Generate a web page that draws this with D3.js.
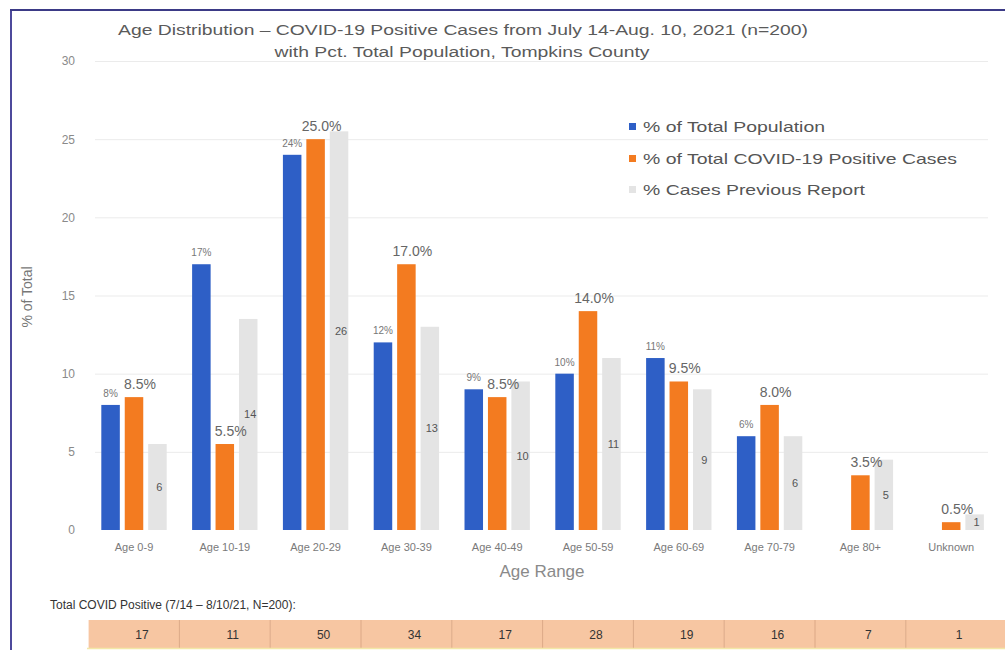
<!DOCTYPE html>
<html>
<head>
<meta charset="utf-8">
<script src="https://cdnjs.cloudflare.com/ajax/libs/d3/7.8.5/d3.min.js"></script>
<style>
  body { margin: 0; background: #fff; }
  svg { font-family: "Liberation Sans", Arial, sans-serif; display: block; }
</style>
</head>
<body>
<svg width="1005" height="650"></svg>
<script>
var categories = ["Age 0-9", "Age 10-19", "Age 20-29", "Age 30-39", "Age 40-49",
                  "Age 50-59", "Age 60-69", "Age 70-79", "Age 80+", "Unknown"];
// % of total population (no bar for 80+ / Unknown)
var popPct = [8, 17, 24, 12, 9, 10, 11, 6, null, null];
// % of total COVID-19 positive cases
var casePct = [8.5, 5.5, 25.0, 17.0, 8.5, 14.0, 9.5, 8.0, 3.5, 0.5];
// % cases previous report
var prevPct = [5.5, 13.5, 25.5, 13, 9.5, 11, 9, 6, 4.5, 1];
// total covid positive counts (table row)
var totals = [17, 11, 50, 34, 17, 28, 19, 16, 7, 1];
var yTicks = [0, 5, 10, 15, 20, 25, 30];
var seriesNames = ["% of Total Population", "% of Total COVID-19 Positive Cases", "% Cases Previous Report"];
var seriesKeys = ["pop", "cases", "prev"];

var svg = d3.select("svg");

var colorScale = d3.scaleOrdinal()
    .domain(seriesKeys)
    .range(["#2e5fc6", "#f37b20", "#e4e4e4"]);

var xScale = d3.scaleBand()
    .domain(categories)
    .range([88.6, 996.6])
    .paddingInner(0.28)
    .paddingOuter(0.14);

var xInner = d3.scaleBand()
    .domain(seriesKeys)
    .range([0, xScale.bandwidth()])
    .paddingInner(0.21);

var yScale = d3.scaleLinear().domain([0, 30]).range([530, 61]);

// frame
svg.append("line").attr("x1", 11).attr("x2", 11).attr("y1", 10).attr("y2", 650)
    .attr("stroke", "#4d4a9c").attr("stroke-width", 2);
svg.append("line").attr("x1", 10).attr("x2", 1005).attr("y1", 10).attr("y2", 10)
    .attr("stroke", "#3b3a86").attr("stroke-width", 2);

// title
var title = svg.append("g").attr("fill", "#5a5a5a").attr("font-size", 14).attr("text-anchor", "middle");
title.append("text").attr("x", 463).attr("y", 35)
    .attr("textLength", 690).attr("lengthAdjust", "spacingAndGlyphs")
    .text("Age Distribution \u2013 COVID-19 Positive Cases from July 14-Aug. 10, 2021 (n=200)");
title.append("text").attr("x", 462).attr("y", 57)
    .attr("textLength", 375).attr("lengthAdjust", "spacingAndGlyphs")
    .text("with Pct. Total Population, Tompkins County");

// gridlines
var grid = svg.append("g")
    .attr("transform", "translate(95,0)")
    .call(d3.axisLeft(yScale).tickValues(yTicks.slice(1)).tickSize(-893).tickFormat(""));
grid.select(".domain").remove();
grid.selectAll("line").attr("stroke", "#ebebeb");

// y axis
var gY = svg.append("g")
    .attr("transform", "translate(78,0)")
    .call(d3.axisLeft(yScale).tickValues(yTicks).tickSize(0).tickPadding(3));
gY.select(".domain").remove();
gY.selectAll("text").attr("font-size", 12).attr("fill", "#8a8a8a")
    .attr("font-family", "Liberation Sans, Arial, sans-serif");

svg.append("text")
    .attr("transform", "translate(32,297) rotate(-90)")
    .attr("text-anchor", "middle")
    .attr("font-size", 14)
    .attr("fill", "#777")
    .text("% of Total");

// x axis
var gX = svg.append("g")
    .attr("transform", "translate(0,530)")
    .call(d3.axisBottom(xScale).tickSize(0).tickPadding(13));
gX.select(".domain").remove();
gX.selectAll("text").attr("font-size", 11).attr("fill", "#7a7a7a")
    .attr("font-family", "Liberation Sans, Arial, sans-serif");

svg.append("text")
    .attr("x", 542).attr("y", 577)
    .attr("text-anchor", "middle")
    .attr("font-size", 17)
    .attr("fill", "#8a8a8a")
    .text("Age Range");

// bars
var rows = categories.map(function (c, i) {
    return { cat: c, pop: popPct[i], cases: casePct[i], prev: prevPct[i] };
});

var groups = svg.selectAll(".group")
    .data(rows)
    .enter().append("g")
    .attr("class", "group")
    .attr("transform", function (d) { return "translate(" + xScale(d.cat) + ",0)"; });

groups.selectAll("rect")
    .data(function (d) {
        return seriesKeys.filter(function (k) { return d[k] != null; })
            .map(function (k) { return { key: k, value: d[k] }; });
    })
    .enter().append("rect")
    .attr("x", function (d) { return xInner(d.key); })
    .attr("width", xInner.bandwidth())
    .attr("y", function (d) { return yScale(d.value); })
    .attr("height", function (d) { return yScale(0) - yScale(d.value); })
    .attr("fill", function (d) { return colorScale(d.key); });

// labels: population
groups.filter(function (d) { return d.pop != null; })
    .append("text")
    .attr("x", xInner("pop") + xInner.bandwidth() / 2)
    .attr("y", function (d) { return yScale(d.pop) - 8; })
    .attr("text-anchor", "middle")
    .attr("font-size", 10)
    .attr("fill", "#777")
    .text(function (d) { return d.pop + "%"; });

// labels: cases
function caseLabelY(d) { return yScale(d.cases) - 8; }
groups.append("text")
    .attr("x", xInner("cases") + xInner.bandwidth() / 2 + 6)
    .attr("y", caseLabelY)
    .attr("text-anchor", "middle")
    .attr("font-size", 14)
    .attr("fill", "#666")
    .text(function (d) { return d.cases.toFixed(1) + "%"; });

// labels: previous report (middle of bar, pushed up if it hits the cases label)
groups.append("text")
    .attr("x", xInner("prev") + xInner.bandwidth() / 2 + 2)
    .attr("y", function (d) {
        var y = (yScale(d.prev) + yScale(0)) / 2 + 4;
        var cy = caseLabelY(d);
        if (Math.abs(y - cy) < 14 && yScale(d.prev) < cy - 14) y = cy - 18;
        return y;
    })
    .attr("text-anchor", "middle")
    .attr("font-size", 11)
    .attr("fill", "#555")
    .text(function (d) { return Math.round(d.prev); });

// legend
var legend = svg.append("g").attr("class", "legend");
var legendRows = legend.selectAll(".legend-row")
    .data(seriesKeys)
    .enter().append("g")
    .attr("class", "legend-row")
    .attr("transform", function (d, i) { return "translate(629," + [127, 159, 190][i] + ")"; });
legendRows.append("rect")
    .attr("x", 0).attr("y", -4).attr("width", 7).attr("height", 7)
    .attr("fill", colorScale);
legendRows.append("text")
    .attr("x", 14).attr("dy", "0.35em")
    .attr("font-size", 15)
    .attr("fill", "#555")
    .attr("textLength", function (d, i) { return [182, 314, 222][i]; })
    .attr("lengthAdjust", "spacingAndGlyphs")
    .text(function (d, i) { return seriesNames[i]; });

// table row
svg.append("text")
    .attr("x", 50).attr("y", 609)
    .attr("font-size", 12)
    .attr("fill", "#333")
    .text("Total COVID Positive (7/14 \u2013 8/10/21, N=200):");

var step = xScale.step();
var cells = svg.selectAll(".cell")
    .data(categories)
    .enter().append("g")
    .attr("class", "cell")
    .attr("transform", function (d) {
        return "translate(" + (xScale(d) + xScale.bandwidth() / 2 - step / 2) + ",620)";
    });
cells.append("rect")
    .attr("width", function (d, i) { return i === categories.length - 1 ? 1005 : step; })
    .attr("height", 28)
    .attr("fill", "#f7c6a2");
cells.append("line")
    .attr("x1", 0).attr("x2", 0).attr("y1", 0).attr("y2", 28)
    .attr("stroke", function (d, i) { return i === 0 ? "none" : "#dca886"; });
cells.append("text")
    .attr("x", step / 2 + 8).attr("y", 19)
    .attr("text-anchor", "middle")
    .attr("font-size", 12)
    .attr("fill", "#333")
    .text(function (d, i) { return totals[i]; });
svg.append("line").attr("x1", 87).attr("x2", 1005).attr("y1", 648.5).attr("y2", 648.5)
    .attr("stroke", "#f3e7a8").attr("stroke-width", 1.5);
</script>
</body>
</html>
